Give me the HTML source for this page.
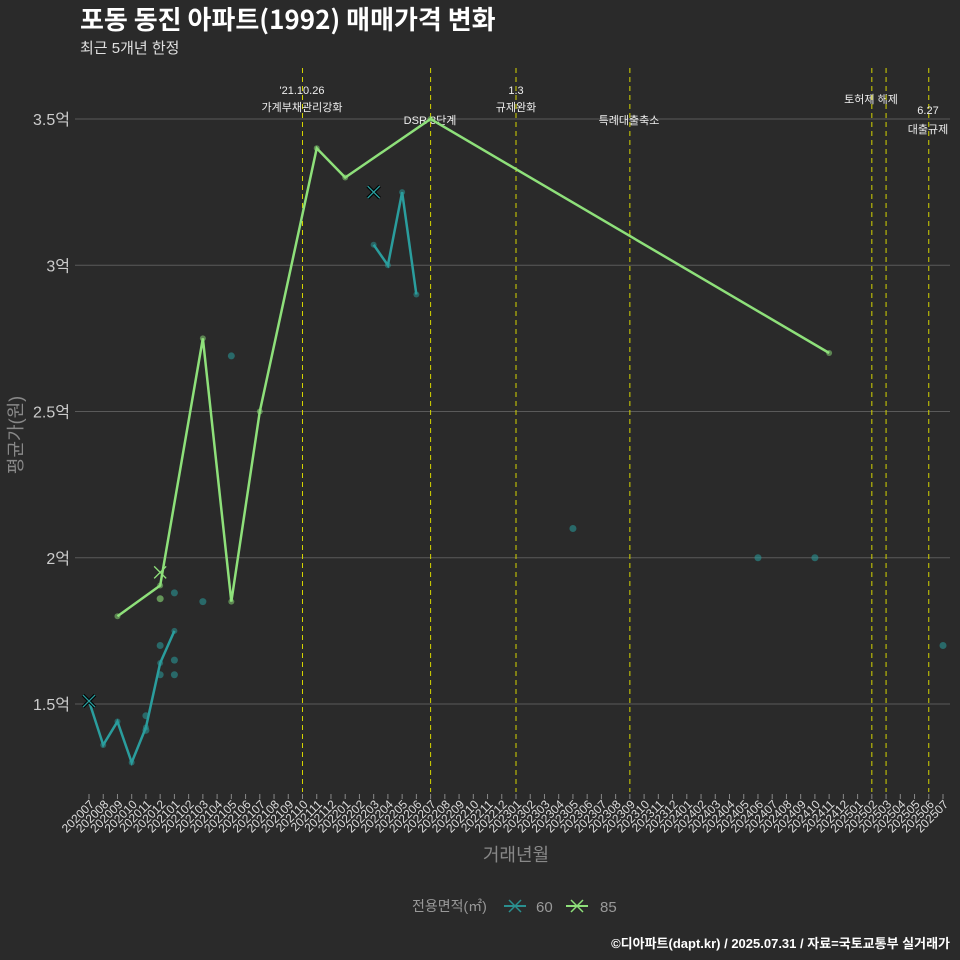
<!DOCTYPE html>
<html><head><meta charset="utf-8"><style>
body{margin:0;background:#2a2a2a;}
svg{display:block;font-family:"Liberation Sans","Noto Sans CJK KR",sans-serif;}
</style></head><body>
<svg id="chart" width="960" height="960" viewBox="0 0 960 960">
<rect x="0" y="0" width="960" height="960" fill="#2a2a2a"/>
<text x="80" y="29" fill="#ffffff" font-size="26" font-weight="bold" font-family="'Noto Sans CJK KR','Liberation Sans',sans-serif">포동 동진 아파트(1992) 매매가격 변화</text>
<text x="80" y="53" fill="#e0e0e0" font-size="15">최근 5개년 한정</text>
<g id="grid"></g>
<g id="events"></g>
<g id="series"></g>
<g id="xaxis"></g>
<g id="yaxis"></g>
<text x="0" y="0" transform="translate(22,435) rotate(-90)" text-anchor="middle" fill="#888" font-size="18">평균가(원)</text>
<text x="516" y="861" text-anchor="middle" fill="#888" font-size="18">거래년월</text>
<g>
<text x="412" y="911" fill="#999" font-size="14">전용면적(㎡)</text>
<g>
<line x1="504" y1="906" x2="526" y2="906" stroke="#2a8f8f" stroke-width="2"/>
<path d="M509 900 L521 912 M521 900 L509 912" stroke="#2a8f8f" stroke-width="1.5"/>
<text x="536" y="912" fill="#999" font-size="15">60</text></g>
<g>
<line x1="566" y1="906" x2="588" y2="906" stroke="#8ee07a" stroke-width="2"/>
<path d="M571 900 L583 912 M583 900 L571 912" stroke="#8ee07a" stroke-width="1.5"/>
<text x="600" y="912" fill="#999" font-size="15">85</text></g>
</g>
<text x="950" y="948" text-anchor="end" fill="#ffffff" font-size="13" font-weight="bold">©디아파트(dapt.kr) / 2025.07.31 / 자료=국토교통부 실거래가</text>
</svg>
<script>
const months=[];for(let y=2020,m=7;months.length<61;){months.push(y+String(m).padStart(2,'0'));m++;if(m>12){m=1;y++;}}
const yTicks=[1.5,2,2.5,3,3.5];
const yTickLabels=['1.5억','2억','2.5억','3억','3.5억'];
const line60a=[['202007',1.51],['202008',1.36],['202009',1.44],['202010',1.30],['202011',1.42],['202012',1.64],['202101',1.75]];
const line60b=[['202203',3.07],['202204',3.0],['202205',3.25],['202206',2.9]];
const line85=[['202009',1.8],['202012',1.905],['202103',2.75],['202105',1.85],['202107',2.5],['202111',3.4],['202201',3.3],['202207',3.5],['202411',2.7]];
const pts60=[['202011',1.46],['202011',1.41],['202012',1.70],['202012',1.60],['202101',1.88],['202101',1.65],['202101',1.60],['202103',1.85],['202105',2.69],['202305',2.1],['202406',2.0],['202410',2.0],['202507',1.7]];
const pts85=[['202012',1.86]];
const cross60=[['202007',1.51],['202203',3.25]];
const cross85=[['202012',1.95]];
const eventMonths=['202110','202207','202301','202309','202502','202503','202506'];
const eventLabels=[["'21.10.26","가계부채관리강화"],["","DSR 3단계"],["1.3","규제완화"],["","특례대출축소"],["","토허제 해제"],["",""],["6.27","대출규제"]];
const eventLabelY=[[94,111],[0,124],[94,111],[0,124],[0,103],[0,0],[114,133]];
const eventLabelX=[302,430,516,629,871,885,928];
const NS='http://www.w3.org/2000/svg';
const x=m=>89+months.indexOf(m)*(943-89)/60;
const y=v=>704-(v-1.5)*292.5;
function mk(tag,attrs,parent){const e=document.createElementNS(NS,tag);for(const k in attrs)e.setAttribute(k,attrs[k]);parent.appendChild(e);return e;}
const g=id=>document.getElementById(id);
yTicks.forEach((t,i)=>{
 const l=mk('line',{x1:75,x2:950,y1:y(t),y2:y(t),stroke:'#5a5a5a','stroke-width':1},g('grid'));
 
 
 const tx=mk('text',{x:70,y:y(t)+6,'text-anchor':'end',fill:'#cccccc','font-size':16},g('yaxis'));
 tx.textContent=yTickLabels[i];
 
 
});
months.forEach(m=>{
 const t=mk('line',{x1:x(m),x2:x(m),y1:794,y2:799,stroke:'#888'},g('xaxis'));
 
 
 const tx=mk('text',{x:0,y:0,transform:`translate(${x(m)+6},${805}) rotate(-45)`,'text-anchor':'end',fill:'#dddddd','font-size':12},g('xaxis'));
 tx.textContent=m;
 
 
});
eventMonths.forEach((m,i)=>{
 const l=mk('line',{x1:x(m),x2:x(m),y1:68,y2:792,stroke:'#d4d400','stroke-width':1,'stroke-dasharray':'5,4'},g('events'));
 
 
 eventLabels[i].forEach((s,j)=>{if(!s)return;
  const tx=mk('text',{x:eventLabelX[i],y:eventLabelY[i][j],'text-anchor':'middle',fill:'#eeeeee','font-size':11},g('events'));
  tx.textContent=s;
  
  
 });
});
function drawLine(data,color,name){
 const p=mk('polyline',{points:data.map(d=>x(d[0])+','+y(d[1])).join(' '),fill:'none',stroke:color,'stroke-width':2.5},g('series'));
 
 
 data.forEach(d=>{const c=mk('circle',{cx:x(d[0]),cy:y(d[1]),r:3,fill:color,opacity:0.5},g('series'));
  
  });
}
function drawPts(data,color,name){data.forEach(d=>{const c=mk('circle',{cx:x(d[0]),cy:y(d[1]),r:3.5,fill:color,opacity:0.6},g('series'));
 
 });}
function drawCross(data,color,name,dark){data.forEach(d=>{const cx=x(d[0]),cy=y(d[1]);
 const dd=`M${cx-6} ${cy-6}L${cx+6} ${cy+6}M${cx+6} ${cy-6}L${cx-6} ${cy+6}`;
 if(dark){const b=mk('path',{d:dd,stroke:'#000','stroke-width':3.5},g('series'));
  
  }
 const p=mk('path',{d:dd,stroke:color,'stroke-width':1.3},g('series'));
 
 });}
drawPts(pts60,'#2a9595','point-60');
drawPts(pts85,'#8ee07a','point-85');
drawLine(line60a,'#2a9d9d','line-60');
drawLine(line60b,'#2a9d9d','line-60');
drawLine(line85,'#8ee07a','line-85');
drawCross(cross60,'#2a9d9d','cross-60',true);
drawCross(cross85,'#8ee07a','cross-85',false);
</script>
</body></html>
